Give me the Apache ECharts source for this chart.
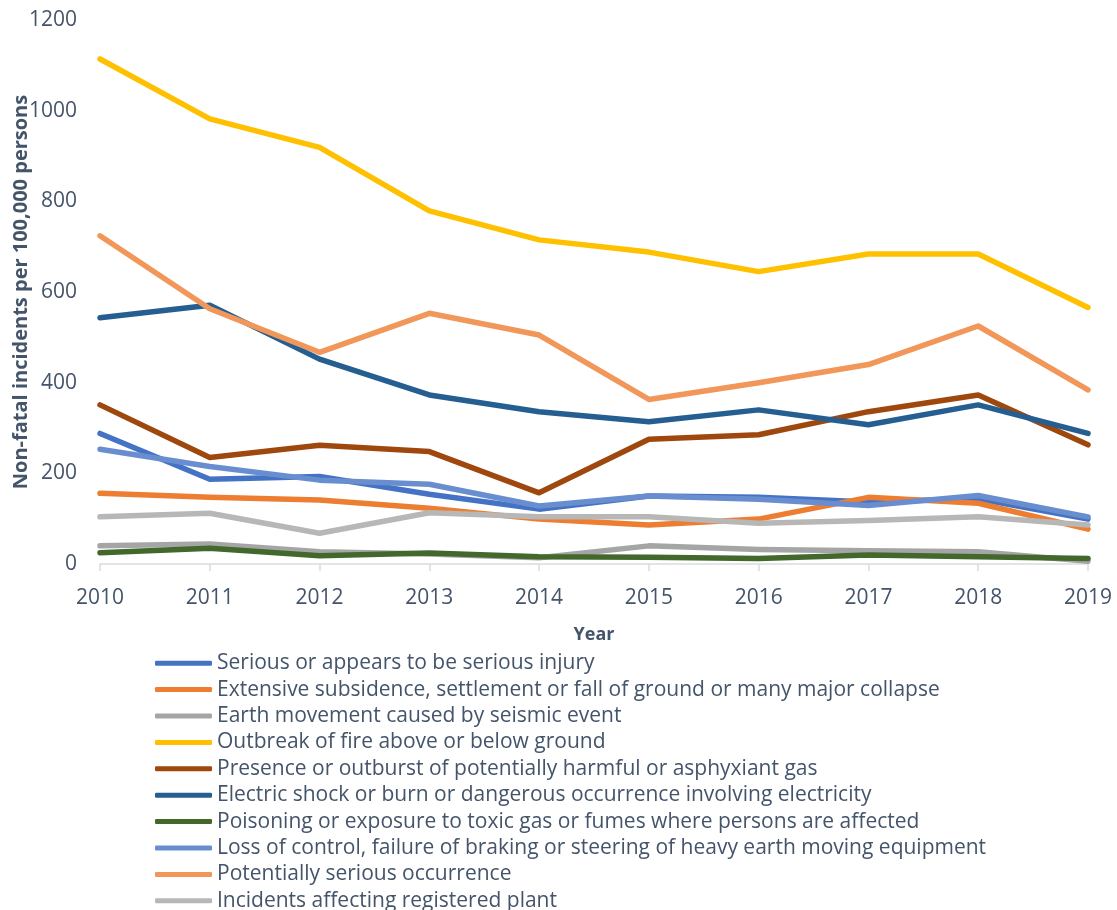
<!DOCTYPE html>
<html>
<head>
<meta charset="utf-8">
<script src="https://cdn.jsdelivr.net/npm/echarts@6/dist/echarts.min.js"></script>
<style>
  html, body { margin: 0; padding: 0; background: #ffffff; overflow: hidden; }
  #chart { width: 1117px; height: 950px; }
</style>
</head>
<body>
<div id="chart"></div>
<script>
// Non-fatal incident rates by incident type, 2010-2019
const years = ['2010', '2011', '2012', '2013', '2014', '2015', '2016', '2017', '2018', '2019'];

const seriousInjury   = [288, 187, 193, 154, 121, 150, 147, 137, 144, 99];
const subsidence      = [156, 147, 141, 123, 99, 86, 99, 147, 134, 77];
const seismic         = [40, 44, 27, 22, 14, 40, 32, 29, 27, 6];
const fire            = [1114, 982, 919, 779, 715, 688, 645, 684, 684, 566];
const harmfulGas      = [351, 235, 262, 248, 157, 275, 285, 336, 373, 263];
const electric        = [543, 571, 452, 373, 336, 314, 340, 307, 351, 288];
const poisoning       = [25, 35, 18, 24, 16, 15, 12, 20, 16, 12];
const lossOfControl   = [253, 215, 185, 176, 128, 150, 143, 129, 151, 104];
const potentially     = [724, 563, 467, 553, 505, 363, 400, 440, 525, 384];
const registeredPlant = [104, 112, 68, 113, 104, 104, 90, 96, 104, 86];

const seriesNames = [
  'Serious or appears to be serious injury',
  'Extensive subsidence, settlement or fall of ground or many major collapse',
  'Earth movement caused by seismic event',
  'Outbreak of fire above or below ground',
  'Presence or outburst of potentially harmful or asphyxiant gas',
  'Electric shock or burn or dangerous occurrence involving electricity',
  'Poisoning or exposure to toxic gas or fumes where persons are affected',
  'Loss of control, failure of braking or steering of heavy earth moving equipment',
  'Potentially serious occurrence',
  'Incidents affecting registered plant'
];
const seriesData = [seriousInjury, subsidence, seismic, fire, harmfulGas, electric,
                    poisoning, lossOfControl, potentially, registeredPlant];
const colors = ['#4472C4', '#ED7D31', '#A5A5A5', '#FFC000', '#9E480E',
                '#255E91', '#43682B', '#698ED0', '#F1975A', '#B7B7B7'];

const yTicks = [0, 200, 400, 600, 800, 1000, 1200];

const FONT = '"Open Sans", Lato, sans-serif';
const TEXT = '#44546A';

const chart = echarts.init(document.getElementById('chart'), null, { renderer: 'canvas' });

chart.setOption({
  backgroundColor: '#ffffff',
  animation: false,
  color: colors,
  grid: { left: 100, right: 29, top: 20, bottom: 386, containLabel: false, outerBoundsMode: 'none' },
  legend: {
    orient: 'vertical',
    left: 155,
    top: 650,
    padding: 0,
    icon: 'roundRect',
    itemWidth: 57,
    itemHeight: 5,
    itemGap: 0,
    textStyle: { fontFamily: FONT, fontSize: 21, color: TEXT, lineHeight: 26.4 },
    data: seriesNames
  },
  xAxis: {
    type: 'category',
    data: years,
    boundaryGap: false,
    name: 'Year',
    nameLocation: 'middle',
    nameGap: 62,
    nameMoveOverlap: false,
    nameTextStyle: { fontFamily: FONT, fontSize: 18, fontWeight: 'bold', color: TEXT },
    axisLine: { lineStyle: { color: '#D9DCE1', width: 1.5 } },
    axisTick: { show: true, alignWithLabel: true, length: 7, lineStyle: { color: '#D9DCE1', width: 1.5 } },
    axisLabel: { fontFamily: FONT, fontSize: 21, color: TEXT, margin: 24 },
    splitLine: { show: false }
  },
  yAxis: {
    type: 'value',
    min: yTicks[0],
    max: yTicks[yTicks.length - 1],
    interval: 200,
    name: 'Non-fatal incidents per 100,000 persons',
    nameLocation: 'middle',
    nameGap: 69,
    nameMoveOverlap: false,
    nameTextStyle: { fontFamily: FONT, fontSize: 20, fontWeight: 'bold', color: TEXT },
    axisLine: { show: false },
    axisTick: { show: false },
    axisLabel: { fontFamily: FONT, fontSize: 21, color: TEXT, margin: 23, formatter: v => String(v) },
    splitLine: { show: false }
  },
  series: seriesNames.map((name, i) => ({
    name: name,
    type: 'line',
    data: seriesData[i],
    symbol: 'none',
    smooth: false,
    lineStyle: { width: 5.5, color: colors[i], cap: 'round', join: 'round' },
    itemStyle: { color: colors[i] },
    z: 2 + i
  }))
});
</script>
</body>
</html>
